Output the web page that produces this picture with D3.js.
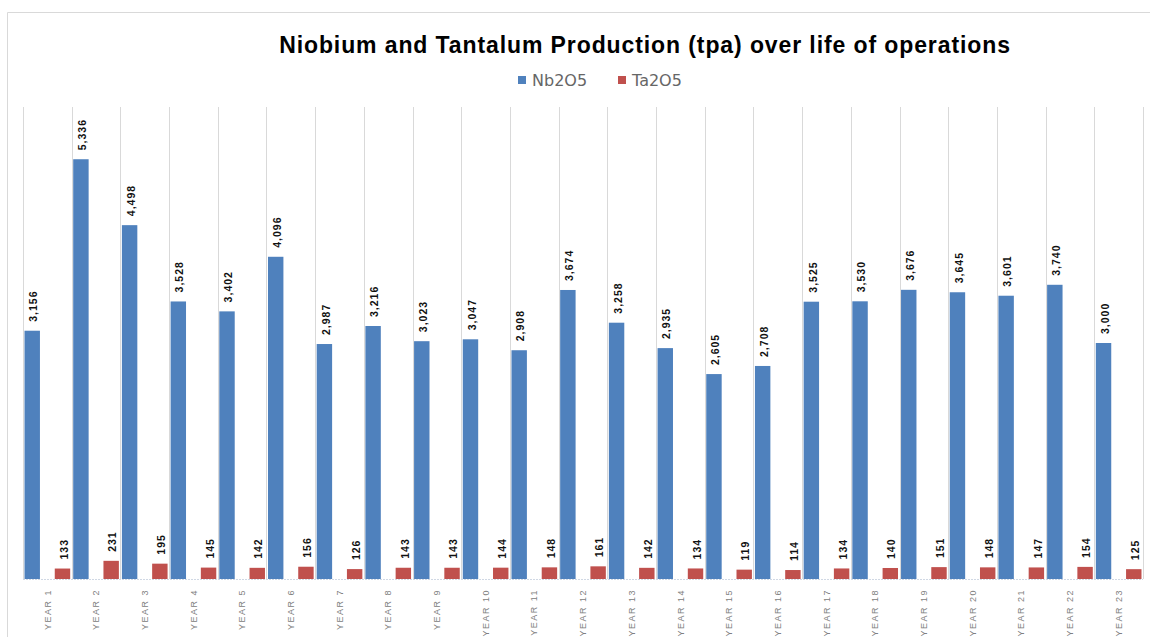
<!DOCTYPE html>
<html lang="en">
<head>
<meta charset="utf-8" />
<title>Niobium and Tantalum Production</title>
<script src="https://d3js.org/d3.v7.min.js"></script>
<style>
    body { margin: 0; background: #fff; }
    .grid line { stroke: #d9d9d9; stroke-width: 1; }
    .vlabel { font-family: "Liberation Sans", Arial, sans-serif; font-weight: bold; font-size: 10.5px; fill: #111; letter-spacing: 1px; }
    .xlabel { font-family: "Liberation Sans", Arial, sans-serif; font-size: 9px; fill: #808080; letter-spacing: 1.5px; }
</style>
</head>
<body>
<script>
    // data
    var years = ["YEAR 1","YEAR 2","YEAR 3","YEAR 4","YEAR 5","YEAR 6","YEAR 7","YEAR 8","YEAR 9","YEAR 10",
                 "YEAR 11","YEAR 12","YEAR 13","YEAR 14","YEAR 15","YEAR 16","YEAR 17","YEAR 18","YEAR 19","YEAR 20",
                 "YEAR 21","YEAR 22","YEAR 23"];
    var nb2o5 = [3156,5336,4498,3528,3402,4096,2987,3216,3023,3047,2908,3674,3258,2935,2605,2708,3525,3530,3676,3645,3601,3740,3000];
    var ta2o5 = [133,231,195,145,142,156,126,143,143,144,148,161,142,134,119,114,134,140,151,148,147,154,125];
    var seriesNames = ["Nb2O5", "Ta2O5"];
    var seriesColors = ["#4f81bd", "#c0504d"];

    var width = 1150, height = 637;
    var svg = d3.select("body").append("svg")
        .attr("width", width)
        .attr("height", height);

    // chart frame
    svg.append("path")
        .attr("d", "M7.5," + height + "V12.5H" + width)
        .attr("fill", "none")
        .attr("stroke", "#d9d9d9");

    var x = d3.scaleBand().domain(years).range([23, 1143]);
    var xs = d3.scaleBand().domain(seriesNames).range([0, x.bandwidth()])
        .paddingInner(0.49).paddingOuter(0.05);
    var y = d3.scaleLinear().domain([0, 6000]).range([579, 107]);

    // vertical gridlines at category boundaries
    var bounds = years.map(function (d) { return x(d); }).concat([x.range()[1]]);
    svg.append("g").attr("class", "grid")
        .selectAll("line").data(bounds).enter().append("line")
        .attr("x1", function (d) { return Math.round(d) + 0.5; })
        .attr("x2", function (d) { return Math.round(d) + 0.5; })
        .attr("y1", y(6000)).attr("y2", y(0));

    var rows = years.map(function (d, i) {
        return { year: d, values: [nb2o5[i], ta2o5[i]] };
    });

    var groups = svg.append("g").selectAll("g").data(rows).enter().append("g")
        .attr("transform", function (d) { return "translate(" + x(d.year) + ",0)"; });

    groups.selectAll("rect")
        .data(function (d) { return d.values.map(function (v, k) { return { name: seriesNames[k], value: v, k: k }; }); })
        .enter().append("rect")
        .attr("x", function (d) { return xs(d.name); })
        .attr("width", xs.bandwidth())
        .attr("y", function (d) { return y(d.value); })
        .attr("height", function (d) { return y(0) - y(d.value); })
        .attr("fill", function (d) { return seriesColors[d.k]; });

    // value labels, rotated
    groups.selectAll("text.vlabel")
        .data(function (d) { return d.values.map(function (v, k) { return { name: seriesNames[k], value: v }; }); })
        .enter().append("text")
        .attr("class", "vlabel")
        .attr("transform", function (d) {
            return "translate(" + (xs(d.name) + xs.bandwidth() / 2 + 1.5) + "," + (y(d.value) - 9) + ") rotate(-90)";
        })
        .attr("dy", "0.35em")
        .text(function (d) { return d3.format(",")(d.value); });

    // baseline
    svg.append("line")
        .attr("x1", 23).attr("x2", 1143)
        .attr("y1", y(0) + 0.5).attr("y2", y(0) + 0.5)
        .attr("stroke", "#d0d8e4")
        .attr("stroke-dasharray", "2,1");

    // category labels
    svg.append("g").selectAll("text").data(years).enter().append("text")
        .attr("class", "xlabel")
        .attr("text-anchor", "end")
        .attr("transform", function (d) { return "translate(" + (x(d) + x.bandwidth() / 2) + ",589) rotate(-90)"; })
        .attr("dy", "0.35em")
        .text(function (d) { return d; });

    // title
    svg.append("text")
        .attr("x", 645).attr("y", 53)
        .attr("text-anchor", "middle")
        .style("font-family", "'Liberation Sans', Arial, sans-serif")
        .style("font-weight", "bold")
        .style("font-size", "23px")
        .style("letter-spacing", "0.9px")
        .style("fill", "#000")
        .text("Niobium and Tantalum Production (tpa) over life of operations");

    // legend
    var legendX = [518, 618];
    var legend = svg.append("g").selectAll("g").data(seriesNames).enter().append("g")
        .attr("transform", function (d, i) { return "translate(" + legendX[i] + ",76)"; });
    legend.append("rect")
        .attr("width", 8).attr("height", 8)
        .attr("fill", function (d, i) { return seriesColors[i]; });
    legend.append("text")
        .attr("x", 14).attr("y", 4)
        .attr("dy", "0.35em")
        .style("font-family", "'DejaVu Sans', sans-serif")
        .style("font-size", "16px")
        .style("fill", "#666")
        .text(function (d) { return d; });
</script>
</body>
</html>
